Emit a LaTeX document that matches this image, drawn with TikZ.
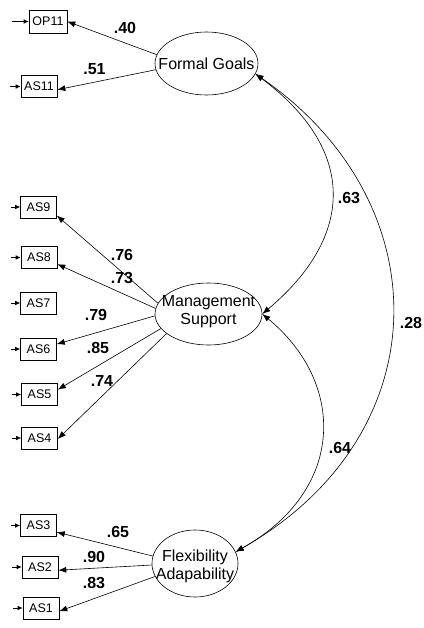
\documentclass[tikz,border=0pt]{standalone}
\usepackage{fontspec}
\setmainfont{Liberation Sans}
\usetikzlibrary{shapes.geometric,arrows.meta}
\tikzset{
  obs/.style={draw, line width=0.6pt, minimum width=36pt, minimum height=22pt, inner sep=0pt, font=\fontsize{12.5}{14}\selectfont},
  lat/.style={draw, ellipse, line width=0.6pt, inner sep=0pt},
  lattext/.style={align=center, inner sep=0pt, font=\fontsize{16}{17.5}\selectfont},
  coef/.style={inner sep=0pt, font=\bfseries\fontsize{16}{18}\selectfont},
  loadarrow/.style={line width=0.6pt, -{Latex[length=8pt,width=6pt]}},
  covarrow/.style={line width=0.6pt, {Latex[length=8pt,width=6pt]}-{Latex[length=8pt,width=6pt]}},
  errarrow/.style={line width=0.6pt, -{Latex[length=5pt,width=4.5pt]}},
}
\begin{document}
\begin{tikzpicture}[x=1pt,y=-1pt]
\fill[white] (0,0) rectangle (423,628);
\useasboundingbox (0,0) rectangle (423,628);

% latent variables
\node[lat, minimum width=103pt, minimum height=63pt] (fg) at (206.5,63.5) {};
\node[lattext] (fgt) at (206.5,64) {Formal Goals};
\node[lat, minimum width=107pt, minimum height=62pt] (ms) at (208.5,314) {};
\node[lattext] (mst) at (208.5,311.5) {Management\\Support};
\node[lat, minimum width=86pt, minimum height=67pt] (fa) at (195,563.5) {};
\node[lattext] (fat) at (195,566.5) {Flexibility\\Adapability};

% observed variables
\node[obs, minimum width=38pt, minimum height=23pt] (op11) at (48,21.5) {OP11};
\node[obs] (as11) at (39,86.5) {AS11};
\node[obs] (as9) at (38.5,207) {AS9};
\node[obs] (as8) at (39,257.5) {AS8};
\node[obs] (as7) at (38.5,303) {AS7};
\node[obs] (as6) at (38.5,349) {AS6};
\node[obs] (as5) at (39.5,394.5) {AS5};
\node[obs] (as4) at (39.5,438) {AS4};
\node[obs] (as3) at (38.5,525.5) {AS3};
\node[obs] (as2) at (40,567) {AS2};
\node[obs] (as1) at (41,608) {AS1};

% error stubs
\coordinate (eop11) at (12,21.5);
\coordinate (eas11) at (10,86.5);
\coordinate (eas9) at (11,207);
\coordinate (eas8) at (11,257.5);
\coordinate (eas7) at (11,303);
\coordinate (eas6) at (11,349);
\coordinate (eas5) at (12,394.5);
\coordinate (eas4) at (12,438);
\coordinate (eas3) at (11,525.5);
\coordinate (eas2) at (12,567);
\coordinate (eas1) at (13,608);
\draw[errarrow] (eop11) -- (op11.west);
\draw[errarrow] (eas11) -- (as11.west);
\draw[errarrow] (eas9) -- (as9.west);
\draw[errarrow] (eas8) -- (as8.west);
\draw[errarrow] (eas7) -- (as7.west);
\draw[errarrow] (eas6) -- (as6.west);
\draw[errarrow] (eas5) -- (as5.west);
\draw[errarrow] (eas4) -- (as4.west);
\draw[errarrow] (eas3) -- (as3.west);
\draw[errarrow] (eas2) -- (as2.west);
\draw[errarrow] (eas1) -- (as1.west);

% loadings
\draw[loadarrow] (fg.170) -- (op11.east);
\draw[loadarrow] (fg.187) -- (as11.-10);
\draw[loadarrow] (ms.168) -- (as9.-25);
\draw[loadarrow] (ms.174) -- (as8.-20);
\draw[loadarrow] (ms.182) -- (as6.15);
\draw[loadarrow] (ms.197) -- (as5.15);
\draw[loadarrow] (ms.205) -- (as4.-3);
\draw[loadarrow] (fa.170) -- (as3.-20);
\draw[loadarrow] (fa.182) -- (as2.-10);
\draw[loadarrow] (fa.198) -- (as1.-10);

% covariances
\draw[covarrow] (fg.-12) .. controls (356,149) and (356,235) .. (ms.0);
\draw[covarrow] (fg.-12) .. controls (441,202) and (441,435) .. (fa.16);
\draw[covarrow] (ms.0) .. controls (346,383) and (346,490) .. (fa.16);

% coefficients
\node[coef] (c40) at (125,27.5) {.40};
\node[coef] (c51) at (94.5,69) {.51};
\node[coef] (c76) at (122,255) {.76};
\node[coef] (c73) at (122,278) {.73};
\node[coef] (c79) at (96,315) {.79};
\node[coef] (c85) at (98,348) {.85};
\node[coef] (c74) at (102,381) {.74};
\node[coef] (c65) at (118,532) {.65};
\node[coef] (c90) at (94,557) {.90};
\node[coef] (c83) at (94,583) {.83};
\node[coef] (c63) at (349,198) {.63};
\node[coef] (c28) at (411,323) {.28};
\node[coef] (c64) at (340,448) {.64};
\end{tikzpicture}
\end{document}
